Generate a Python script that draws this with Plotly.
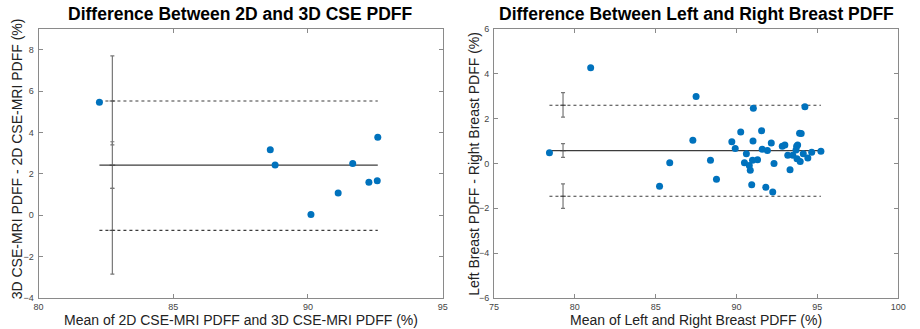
import plotly.graph_objects as go

# ---------------- data ----------------
# Left panel: 2D vs 3D CSE PDFF
left_x = [82.26, 88.60, 88.78, 90.11, 91.12, 91.66, 92.26, 92.57, 92.59]
left_y = [5.46, 3.17, 2.43, 0.03, 1.08, 2.50, 1.59, 1.67, 3.77]
left_mean = 2.42
left_upper = 5.52
left_lower = -0.73
left_ci_x = 82.74
left_mean_ci = [1.30, 3.55]
left_upper_ci = [3.40, 7.70]
left_lower_ci = [-2.85, 1.30]

# Right panel: left vs right breast PDFF
right_x = [78.43, 80.98, 87.50, 91.04, 94.23, 87.30, 85.87, 85.24, 88.39, 88.76,
           89.71, 89.92, 90.26, 90.61, 90.49, 90.79, 90.85, 90.99, 91.30, 91.02,
           90.94, 91.55, 91.59, 91.91, 92.15, 92.32, 91.81, 92.24, 92.83, 92.99,
           93.17, 93.48, 93.31, 93.72, 93.78, 93.68, 93.74, 93.94, 93.90, 94.00,
           94.13, 94.41, 94.65, 95.22]
right_y = [0.48, 4.27, 2.99, 2.47, 2.53, 1.04, 0.03, -1.01, 0.15, -0.70,
           0.97, 0.67, 1.40, 0.43, 0.03, -0.09, -0.30, 0.15, 0.17, 1.00,
           -0.95, 1.46, 0.64, 0.58, 0.91, 0.00, -1.06, -1.27, 0.77, 0.82,
           0.37, 0.37, -0.28, 0.77, 0.83, 0.60, 0.21, 0.09, 1.35, 1.34,
           0.43, 0.24, 0.50, 0.55]
right_mean = 0.57
right_upper = 2.60
right_lower = -1.46
right_ci_x = 79.27
right_mean_ci = [0.27, 0.89]
right_upper_ci = [2.07, 3.16]
right_lower_ci = [-2.00, -0.91]

titles = ["Difference Between 2D and 3D CSE PDFF",
          "Difference Between Left and Right Breast PDFF"]
xtitles = ["Mean of 2D CSE-MRI PDFF and 3D CSE-MRI PDFF (%)",
           "Mean of Left and Right Breast PDFF (%)"]
ytitles = ["3D CSE-MRI PDFF - 2D CSE-MRI PDFF (%)",
           "Left Breast PDFF - Right Breast PDFF (%)"]

# ---------------- figure ----------------
W, H = 920, 329
fig = go.Figure()

BLUE = "#0072BD"
LINE = "#3c3c3c"
ERR = "#777777"

def add_panel(xs, ys, mean, upper, lower, cix, mci, uci, lci, xa, ya):
    xmin, xmax = min(xs), max(xs)
    fig.add_trace(go.Scatter(x=[xmin, xmax], y=[mean, mean], mode="lines",
                             line=dict(color=LINE, width=1.2),
                             xaxis=xa, yaxis=ya, showlegend=False, hoverinfo="skip"))
    for v in (upper, lower):
        fig.add_trace(go.Scatter(x=[xmin, xmax], y=[v, v], mode="lines",
                                 line=dict(color=LINE, width=1.1, dash="dot"),
                                 xaxis=xa, yaxis=ya, showlegend=False, hoverinfo="skip"))
    centers = [upper, mean, lower]
    cis = [uci, mci, lci]
    fig.add_trace(go.Scatter(
        x=[cix] * 3, y=centers, mode="markers",
        marker=dict(symbol="line-ew", size=4, line=dict(color=LINE, width=1)),
        error_y=dict(type="data", symmetric=False,
                     array=[c[1] - m for c, m in zip(cis, centers)],
                     arrayminus=[m - c[0] for c, m in zip(cis, centers)],
                     color=ERR, thickness=1.2, width=2),
        xaxis=xa, yaxis=ya, showlegend=False, hoverinfo="skip"))
    fig.add_trace(go.Scatter(x=xs, y=ys, mode="markers",
                             marker=dict(color=BLUE, size=7),
                             xaxis=xa, yaxis=ya, showlegend=False))

add_panel(left_x, left_y, left_mean, left_upper, left_lower, left_ci_x,
          left_mean_ci, left_upper_ci, left_lower_ci, "x", "y")
add_panel(right_x, right_y, right_mean, right_upper, right_lower, right_ci_x,
          right_mean_ci, right_upper_ci, right_lower_ci, "x2", "y2")

axis_common = dict(showline=True, linecolor="#8a8a8a", linewidth=1, mirror="ticks",
                   ticks="inside", ticklen=4, tickcolor="#8a8a8a", showgrid=False,
                   zeroline=False, tickfont=dict(family="Liberation Sans, Arial", size=9, color="#444"))

L_DOM = [34 / W, 444 / W]
R_DOM = [496 / W, 906 / W]

fig.update_layout(
    width=W, height=H,
    margin=dict(l=0, r=0, t=29, b=31),
    paper_bgcolor="white", plot_bgcolor="white",
    xaxis=dict(domain=L_DOM, range=[80, 95], tickvals=[80, 85, 90, 95], anchor="y", **axis_common),
    yaxis=dict(domain=[0, 1], range=[-4, 9], tickvals=[-4, -2, 0, 2, 4, 6, 8], anchor="x",
               ticklabelstandoff=2, **axis_common),
    xaxis2=dict(domain=R_DOM, range=[75, 100], tickvals=[75, 80, 85, 90, 95, 100], anchor="y2", **axis_common),
    yaxis2=dict(domain=[0, 1], range=[-6, 6], tickvals=[-6, -4, -2, 0, 2, 4, 6], anchor="x2",
                ticklabelstandoff=2, **axis_common),
)

ann = []
centers_x = [(34 + 444) / 2 / W, (496 + 906) / 2 / W]
ytitle_x = [12 / W, 475 / W]
ytitle_shift = [5, 0]
for i in range(2):
    ann.append(dict(text="<b>" + titles[i] + "</b>", x=centers_x[i], y=1,
                    xref="paper", yref="paper", xanchor="center", yanchor="middle",
                    yshift=15, showarrow=False,
                    font=dict(family="Liberation Sans, Arial", size=17.5, color="black")))
    ann.append(dict(text=xtitles[i], x=centers_x[i], y=0,
                    xref="paper", yref="paper", xanchor="center", yanchor="middle",
                    yshift=-22, showarrow=False,
                    font=dict(family="Liberation Sans, Arial", size=14, color="#222")))
    ann.append(dict(text=ytitles[i], x=ytitle_x[i], y=0.5,
                    xref="paper", yref="paper", xanchor="center", yanchor="middle",
                    yshift=ytitle_shift[i], textangle=-90, showarrow=False,
                    font=dict(family="Liberation Sans, Arial", size=14, color="#222")))

fig.update_layout(annotations=ann)

fig.write_html("out.html")
